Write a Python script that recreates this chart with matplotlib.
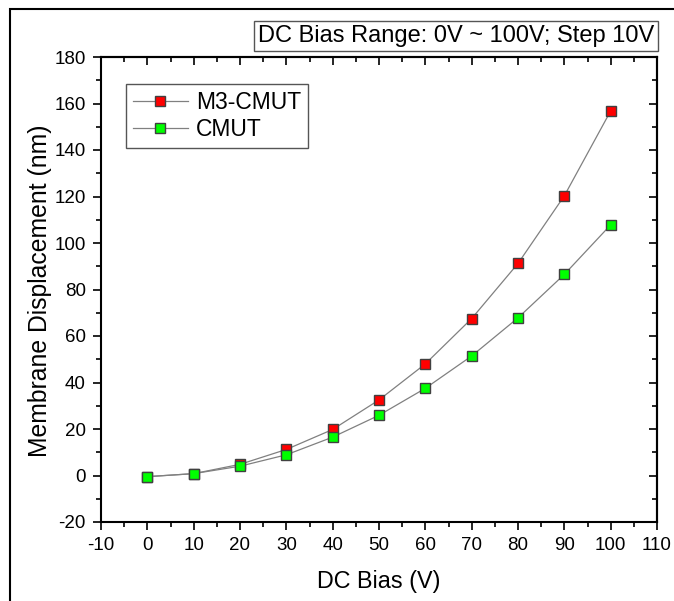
import matplotlib
matplotlib.use('Agg')
import matplotlib.pyplot as plt
from matplotlib.patches import Rectangle
from matplotlib.ticker import MultipleLocator

plt.rcParams['font.family'] = ['Liberation Sans', 'DejaVu Sans']
plt.rcParams['axes.unicode_minus'] = False

# DC bias steps (V) and membrane displacement (nm)
bias = [0, 10, 20, 30, 40, 50, 60, 70, 80, 90, 100]
m3_cmut = [-0.5, 0.8, 4.8, 11.2, 19.8, 32.5, 48.0, 67.5, 91.2, 120.3, 156.8]
cmut = [-0.5, 0.8, 4.0, 8.9, 16.5, 25.9, 37.5, 51.4, 67.8, 86.5, 107.8]

fig = plt.figure(figsize=(6.74, 6.01), dpi=100)
W, H = 674, 601
ax = fig.add_axes([101 / W, 1 - 522 / H, 556 / W, 465 / H])

ax.plot(bias, m3_cmut, color='#808080', lw=0.9, marker='s', ms=7.5,
        mfc='#ff0000', mec='#404040', mew=1.0, label='M3-CMUT')
ax.plot(bias, cmut, color='#808080', lw=0.9, marker='s', ms=7.5,
        mfc='#00ff00', mec='#404040', mew=1.0, label='CMUT')

ax.set_xlim(-10, 110)
ax.set_ylim(-20, 180)
ax.xaxis.set_major_locator(MultipleLocator(10))
ax.xaxis.set_minor_locator(MultipleLocator(5))
ax.yaxis.set_major_locator(MultipleLocator(20))
ax.yaxis.set_minor_locator(MultipleLocator(10))

for s in ax.spines.values():
    s.set_linewidth(1.5)

ax.tick_params(which='both', direction='out', top=False, right=False,
               width=1.2, labelsize=13.5)
ax.tick_params(which='major', length=6)
ax.tick_params(which='minor', length=3.5)
ax.tick_params(axis='x', pad=5)
ax.tick_params(axis='y', pad=5)

# inward ticks on top and right
top = ax.secondary_xaxis('top')
top.xaxis.set_major_locator(MultipleLocator(10))
top.xaxis.set_minor_locator(MultipleLocator(5))
top.tick_params(which='both', direction='in', labeltop=False, width=1.2)
top.tick_params(which='major', length=6)
top.tick_params(which='minor', length=3.5)
top.spines['top'].set_linewidth(1.5)

right = ax.secondary_yaxis('right')
right.yaxis.set_major_locator(MultipleLocator(20))
right.yaxis.set_minor_locator(MultipleLocator(10))
right.tick_params(which='both', direction='in', labelright=False, width=1.2)
right.tick_params(which='major', length=6)
right.tick_params(which='minor', length=3.5)
right.spines['right'].set_linewidth(1.5)

ax.set_xlabel('DC Bias (V)', fontsize=16.8)
ax.set_ylabel('Membrane Displacement (nm)', fontsize=17.8)
ax.xaxis.set_label_coords(0.5, (522 - 570) / 465)
ax.yaxis.set_label_coords((52 - 101) / 556, 0.497)

leg = ax.legend(loc='upper left', bbox_to_anchor=(0.045, 0.942),
                borderaxespad=0, fontsize=16.5, fancybox=False,
                edgecolor='#555555', handlelength=2.4, handletextpad=0.35,
                labelspacing=0.2, borderpad=0.3, framealpha=1)
leg.get_frame().set_linewidth(1.0)

fig.text((658 - 4) / W, 1 - 36 / H, 'DC Bias Range: 0V ~ 100V; Step 10V',
         fontsize=17, ha='right', va='center',
         bbox=dict(boxstyle='square,pad=0.15', fc='white', ec='#555555', lw=1.0))

# outer frame, partly cut off at right and bottom
fig.patches.append(Rectangle((10 / W, -0.1), 1.2, 1.1 - 9 / H,
                             transform=fig.transFigure, fill=False,
                             ec='black', lw=1.5))

fig.savefig('out.png', dpi=100)
